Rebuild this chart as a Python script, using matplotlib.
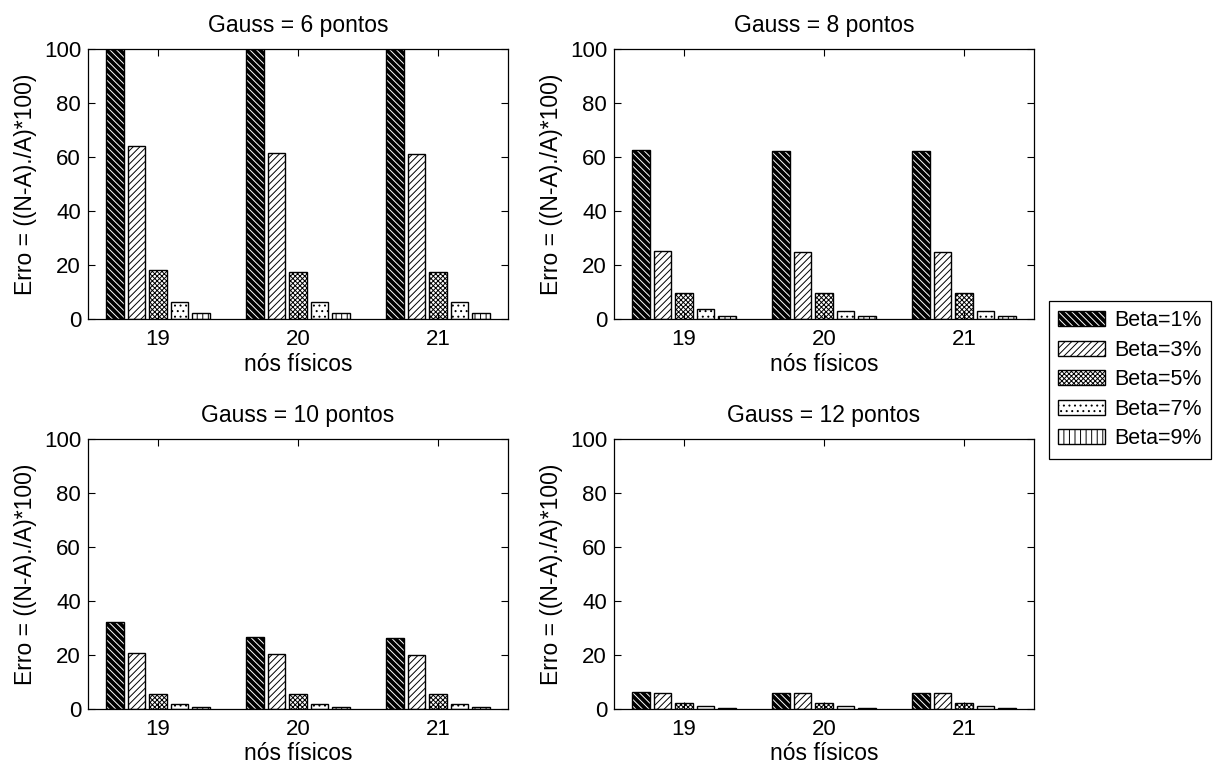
import numpy as np
import matplotlib
matplotlib.use('Agg')
import matplotlib.pyplot as plt
from matplotlib.legend_handler import HandlerTuple

# dados
nos = [19, 20, 21]
betas = ['Beta=1%', 'Beta=3%', 'Beta=5%', 'Beta=7%', 'Beta=9%']
titulos = ['Gauss = 6 pontos', 'Gauss = 8 pontos', 'Gauss = 10 pontos', 'Gauss = 12 pontos']

# erro por beta (linhas) e por numero de nos (colunas)
gauss6 = [[100, 100, 100],
          [64.2, 61.6, 61.1],
          [18.1, 17.5, 17.5],
          [6.2, 6.2, 6.2],
          [2.1, 2.1, 2.1]]
gauss8 = [[62.6, 62.1, 62.1],
          [25.3, 24.9, 24.9],
          [9.5, 9.5, 9.5],
          [3.6, 3.1, 3.1],
          [1.2, 1.2, 1.2]]
gauss10 = [[32.2, 26.8, 26.2],
           [20.9, 20.2, 19.9],
           [5.4, 5.4, 5.4],
           [1.7, 1.7, 1.7],
           [0.9, 0.9, 0.9]]
gauss12 = [[6.4, 5.8, 5.8],
           [5.8, 5.8, 5.8],
           [2.4, 2.4, 2.4],
           [1.0, 1.0, 1.0],
           [0.5, 0.5, 0.5]]
dados = [gauss6, gauss8, gauss10, gauss12]

hatches = ['\\\\\\\\\\', '/////', 'xxxxxxx', '...', '|||']

plt.rcParams['font.family'] = ['Liberation Sans', 'DejaVu Sans']
plt.rcParams['hatch.linewidth'] = 0.7

W, H = 1219, 765
fig = plt.figure(figsize=(W / 100, H / 100), dpi=100)

# posicoes dos eixos em pixels (esquerda, topo)
pos = [(88, 49), (614, 49), (88, 439), (614, 439)]
aw, ah = 420, 270

espaco = (5 / 6.5) / 5
largura = espaco * 0.8
x = np.array(nos, dtype=float)

handles = []
for k, (px, py) in enumerate(pos):
    ax = fig.add_axes([px / W, 1 - (py + ah) / H, aw / W, ah / H])
    d = dados[k]
    for i in range(5):
        xs = x + (i - 2) * espaco
        if i == 0:
            b1 = ax.bar(xs, d[i], largura, facecolor='black', edgecolor='white',
                        hatch=hatches[i], linewidth=0)
            b2 = ax.bar(xs, d[i], largura, fill=False, edgecolor='black', linewidth=1)
            if k == 0:
                handles.append((b1[0], b2[0]))
        else:
            b = ax.bar(xs, d[i], largura, facecolor='white', edgecolor='black',
                       hatch=hatches[i], linewidth=1)
            if k == 0:
                handles.append(b[0])
    ax.set_xlim(18.5, 21.5)
    ax.set_ylim(0, 100)
    ax.set_xticks(nos)
    ax.set_yticks([0, 20, 40, 60, 80, 100])
    ax.tick_params(direction='in', top=True, right=True, length=5, labelsize=16)
    ax.tick_params(axis='x', pad=7)
    ax.tick_params(axis='y', pad=5)
    ax.set_title(titulos[k], fontsize=16.5, pad=12)
    ax.set_xlabel('nós físicos', fontsize=16.5, labelpad=2)
    ax.set_ylabel('Erro = ((N-A)./A)*100)', fontsize=16.5, labelpad=5)
    for s in ax.spines.values():
        s.set_linewidth(0.9)

leg = fig.legend(handles, betas, loc='upper left',
                 bbox_to_anchor=(1049 / W, 1 - 301 / H), borderaxespad=0,
                 fontsize=15.5, handlelength=2.2, handleheight=0.7,
                 handletextpad=0.4, labelspacing=0.4, borderpad=0.42,
                 fancybox=False, framealpha=1, edgecolor='black',
                 handler_map={tuple: HandlerTuple(ndivide=1, pad=0)})
leg.get_frame().set_linewidth(0.9)

fig.savefig('out.png', dpi=100)
